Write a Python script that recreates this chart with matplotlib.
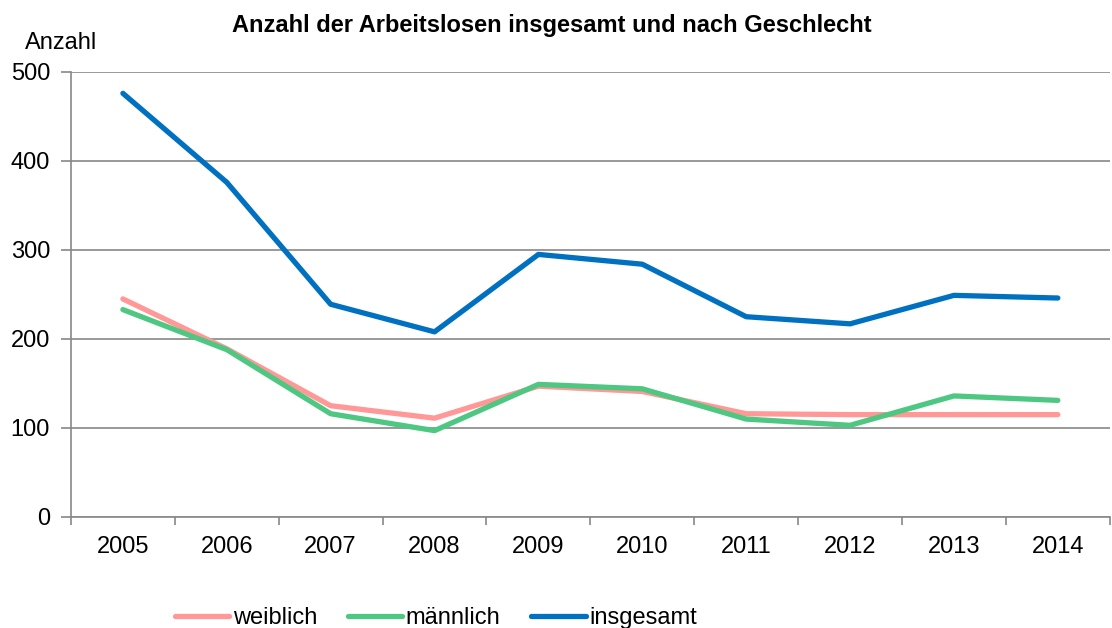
import matplotlib
matplotlib.use("Agg")
import matplotlib.pyplot as plt

plt.rcParams['font.family'] = ['Liberation Sans', 'DejaVu Sans']

years = ['2005', '2006', '2007', '2008', '2009', '2010', '2011', '2012', '2013', '2014']
weiblich = [245, 189, 125, 111, 147, 141, 116, 115, 115, 115]
maennlich = [233, 188, 116, 97, 149, 144, 110, 103, 136, 131]
insgesamt = [476, 376, 239, 208, 295, 284, 225, 217, 249, 246]

fig = plt.figure(figsize=(11.12, 6.28), dpi=100)
ax = fig.add_axes([0.0638, 0.1768, 0.9342, 0.7086])

x = range(len(years))
ax.plot(x, weiblich, color='#FF9896', lw=3.8, label='weiblich', solid_capstyle='round')
ax.plot(x, maennlich, color='#4EC782', lw=3.8, label='männlich', solid_capstyle='round')
ax.plot(x, insgesamt, color='#0070C0', lw=3.8, label='insgesamt', solid_capstyle='round')

ax.set_xlim(-0.5, len(years) - 0.5)
ax.set_ylim(0, 500)
ax.set_yticks([0, 100, 200, 300, 400, 500])
# category boundaries carry the tick marks, labels sit between them
ax.set_xticks([i - 0.5 for i in range(len(years) + 1)], minor=False)
ax.set_xticklabels([])
ax.set_xticks(list(x), minor=True)
ax.set_xticklabels(years, minor=True)
ax.tick_params(axis='x', which='minor', length=0, pad=14, labelsize=17)
ax.tick_params(axis='x', which='major', length=6, color='#888888', width=1.2)
ax.tick_params(axis='y', length=7, color='#888888', width=1.2, labelsize=17, pad=8)
ax.grid(axis='y', color='#888888', lw=1.2)
ax.set_axisbelow(True)
for s in ['top', 'right']:
    ax.spines[s].set_visible(False)
for s in ['left', 'bottom']:
    ax.spines[s].set_color('#888888')
    ax.spines[s].set_linewidth(1.2)

fig.text(0.496, 0.96, 'Anzahl der Arbeitslosen insgesamt und nach Geschlecht',
         ha='center', va='center', fontsize=17, fontweight='bold')
fig.text(0.022, 0.932, 'Anzahl', ha='left', va='center', fontsize=17)

fig.legend(loc='center', bbox_to_anchor=(0.392, 0.016), ncol=3, frameon=False,
           fontsize=17, handlelength=2.3, handletextpad=0.15, columnspacing=1.3,
           borderaxespad=0)

fig.savefig('out.png', dpi=100)
